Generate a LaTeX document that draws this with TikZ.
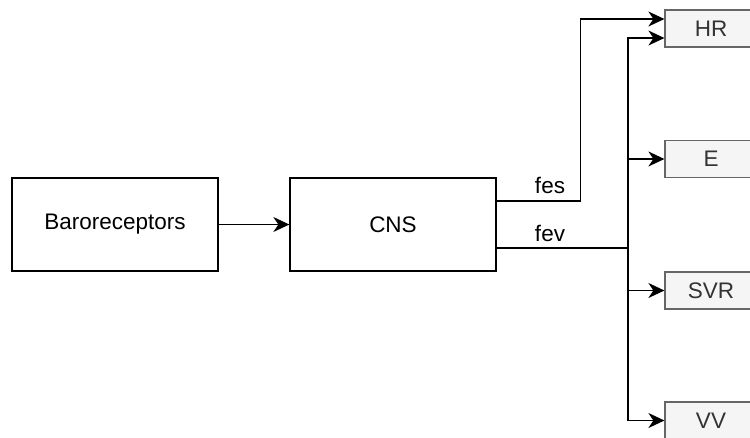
\documentclass[tikz,border=0pt]{standalone}
\usepackage{fontspec}
\setmainfont{Liberation Sans}
\usetikzlibrary{arrows.meta}
\usetikzlibrary{positioning}
\usetikzlibrary{calc}
\definecolor{outline}{HTML}{666666}
\definecolor{outfill}{HTML}{F5F5F5}
\definecolor{outtext}{HTML}{333333}

\begin{document}
\begin{tikzpicture}[x=1pt,y=-1pt,>={Stealth[length=16pt,width=15pt,inset=5pt]}]
  \tikzset{blockbox/.style={draw,line width=1.3pt,minimum width=206pt,minimum height=93pt,font=\fontsize{22.5}{25}\selectfont},
           outbox/.style={draw=outline,fill=outfill,text=outtext,line width=1.2pt,minimum width=92pt,minimum height=37pt,font=\fontsize{22.5}{25}\selectfont},
           wire/.style={line width=1.3pt},
           feeds/.style={wire,->},
           siglabel/.style={font=\fontsize{22.5}{25}\selectfont}}
  \useasboundingbox (0,0) rectangle (750,437);
  \clip (0,0) rectangle (750,437);
  \node[blockbox] (baro) at (115,224.5) {Baroreceptors};
  \node[blockbox] (cns) at (393,224.5) {CNS};

  \node[outbox] (hr) at (711,28.5) {HR};
  \node[outbox] (e) at (711,159) {E};
  \node[outbox] (svr) at (711,290.5) {SVR};
  \node[outbox] (vv) at (711,420.5) {VV};

  \node[siglabel] (fes) at (550,185) {fes};
  \node[siglabel] (fev) at (550,233) {fev};

  \coordinate (bus) at (628,248);

  \draw[feeds] (baro) -- (cns);
  \draw[feeds] ($(cns.east)+(0,-23.5)$) -- ++(84,0) |- ($(hr.west)+(0,-9.5)$);
  \draw[wire] ($(cns.east)+(0,23.5)$) -- (bus);
  \draw[feeds] (bus) |- ($(hr.west)+(0,9.5)$);
  \foreach \target in {e,svr,vv}
    \draw[feeds] (bus) |- (\target.west);
\end{tikzpicture}
\end{document}
